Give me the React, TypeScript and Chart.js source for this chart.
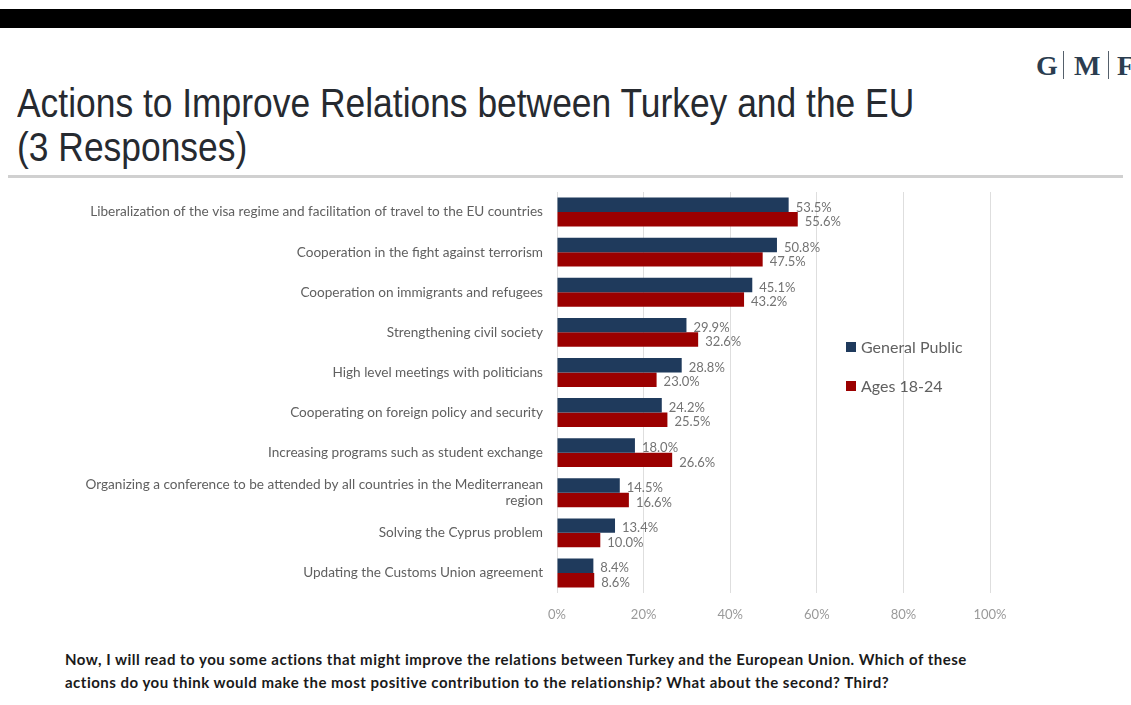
import React, { useEffect, useRef } from "react";
import { Chart, registerables } from "chart.js";

Chart.register(...registerables);

const categories: (string | string[])[] = [
  "Liberalization of the visa regime and facilitation of travel to the EU countries",
  "Cooperation in the fight against terrorism",
  "Cooperation on immigrants and refugees",
  "Strengthening civil society",
  "High level meetings with politicians",
  "Cooperating on foreign policy and security",
  "Increasing programs such as student exchange",
  ["Organizing a conference to be attended by all countries in the Mediterranean", "region"],
  "Solving the Cyprus problem",
  "Updating the Customs Union agreement",
];

const generalPublic = [53.5, 50.8, 45.1, 29.9, 28.8, 24.2, 18.0, 14.5, 13.4, 8.4];
const ages18to24 = [55.6, 47.5, 43.2, 32.6, 23.0, 25.5, 26.6, 16.6, 10.0, 8.6];

const seriesNames = ["General Public", "Ages 18-24"];
const seriesColors = ["#1f3a5c", "#9b0000"];

const LABEL_FONT = "Lato, 'Noto Sans', sans-serif";

const valueLabels = {
  id: "valueLabels",
  afterDatasetsDraw(chart: any) {
    const ctx = chart.ctx;
    ctx.save();
    ctx.fillStyle = "#737373";
    ctx.font = `13px ${LABEL_FONT}`;
    ctx.textAlign = "left";
    ctx.textBaseline = "middle";
    chart.data.datasets.forEach((ds: any, i: number) => {
      const meta = chart.getDatasetMeta(i);
      meta.data.forEach((el: any, j: number) => {
        const v = ds.data[j] as number;
        ctx.fillText(v.toFixed(1) + "%", el.x + 7, el.y + 2.5);
      });
    });
    ctx.restore();
  },
};

export default function App() {
  const ref = useRef<HTMLCanvasElement | null>(null);

  useEffect(() => {
    if (!ref.current) return;
    const chart = new Chart(ref.current, {
      type: "bar",
      data: {
        labels: categories,
        datasets: [
          {
            label: seriesNames[0],
            data: generalPublic,
            backgroundColor: seriesColors[0],
            categoryPercentage: 0.72,
            barPercentage: 1,
          },
          {
            label: seriesNames[1],
            data: ages18to24,
            backgroundColor: seriesColors[1],
            categoryPercentage: 0.72,
            barPercentage: 1,
          },
        ],
      },
      options: {
        indexAxis: "y",
        animation: false,
        responsive: false,
        maintainAspectRatio: false,
        layout: { padding: { top: 7, right: 141, left: 0, bottom: 0 } },
        plugins: {
          legend: { display: false },
          tooltip: { enabled: false },
        },
        scales: {
          x: {
            min: 0,
            max: 100,
            ticks: {
              stepSize: 20,
              padding: 14,
              color: "#9a9a9a",
              font: { family: LABEL_FONT, size: 13 },
              callback: (v: any) => v + "%",
            },
            grid: { color: "#dedede", drawTicks: false },
            border: { display: false },
            afterFit: (s: any) => {
              s.height = 37;
              s.paddingLeft = 0;
              s.paddingRight = 0;
            },
          },
          y: {
            ticks: {
              padding: 14,
              color: "#606060",
              font: { family: LABEL_FONT, size: 13.6 },
            },
            grid: { display: false, drawTicks: false },
            border: { display: false },
            afterFit: (s: any) => {
              s.width = 557;
              s.paddingTop = 0;
              s.paddingBottom = 0;
            },
          },
        },
      },
      plugins: [valueLabels],
    });
    return () => chart.destroy();
  }, []);

  const gmfStyle: React.CSSProperties = {
    position: "absolute",
    top: 50,
    fontFamily: "'Liberation Serif', 'DejaVu Serif', serif",
    fontWeight: "bold",
    fontSize: 28,
    lineHeight: "32px",
    color: "#2b3d50",
  };

  return (
    <div
      style={{
        position: "fixed",
        left: 0,
        top: 0,
        width: 1131,
        height: 705,
        background: "#ffffff",
        overflow: "hidden",
      }}
    >
      <div style={{ position: "absolute", left: 0, top: 9, width: 1131, height: 19, background: "#000" }} />
      <div style={{ ...gmfStyle, left: 1036 }}>G</div>
      <div style={{ position: "absolute", left: 1063, top: 51, width: 1, height: 28, background: "#55606b" }} />
      <div style={{ ...gmfStyle, left: 1074 }}>M</div>
      <div style={{ position: "absolute", left: 1108, top: 51, width: 1, height: 28, background: "#55606b" }} />
      <div style={{ ...gmfStyle, left: 1117 }}>F</div>
      <div
        style={{
          position: "absolute",
          left: 17,
          top: 81,
          fontFamily: "'Liberation Sans', Arial, sans-serif",
          fontSize: 40,
          lineHeight: "44px",
          color: "#262a30",
          whiteSpace: "nowrap",
          transform: "scaleX(0.885)",
          transformOrigin: "left top",
        }}
      >
        Actions to Improve Relations between Turkey and the EU
        <br />
        (3 Responses)
      </div>
      <div style={{ position: "absolute", left: 8, top: 175, width: 1115, height: 3, background: "#d0d0d0" }} />
      <canvas
        ref={ref}
        width={1131}
        height={445}
        style={{ position: "absolute", left: 0, top: 185, width: 1131, height: 445 }}
      />
      <div
        style={{
          position: "absolute",
          left: 846,
          top: 337,
          fontFamily: LABEL_FONT,
          fontSize: 16,
          color: "#606060",
          lineHeight: "20px",
        }}
      >
        {seriesNames.map((n, i) => (
          <div key={n} style={{ display: "flex", alignItems: "center", marginBottom: i === 0 ? 19 : 0 }}>
            <span style={{ display: "inline-block", width: 10, height: 10, background: seriesColors[i], marginRight: 5 }} />
            {n}
          </div>
        ))}
      </div>
      <div
        style={{
          position: "absolute",
          left: 65,
          top: 648,
          fontFamily: LABEL_FONT,
          fontWeight: "bold",
          fontSize: 15,
          letterSpacing: "0.5px",
          lineHeight: "23px",
          color: "#1a1a1a",
          whiteSpace: "nowrap",
        }}
      >
        Now, I will read to you some actions that might improve the relations between Turkey and the European Union. Which of these
        <br />
        actions do you think would make the most positive contribution to the relationship? What about the second? Third?
      </div>
    </div>
  );
}
